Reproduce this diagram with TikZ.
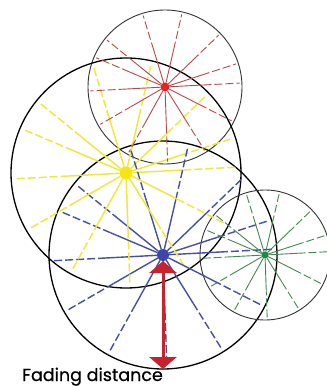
\documentclass[tikz,border=0pt]{standalone}
\usepackage{fontspec}
\usetikzlibrary{arrows.meta,calc}
\newfontfamily\lblfont{Poppins}[FakeBold=0.6]
\definecolor{rayred}{RGB}{190,70,70}
\definecolor{dotred}{RGB}{230,35,35}
\definecolor{rayyellow}{RGB}{240,232,60}
\definecolor{dotyellow}{RGB}{245,230,15}
\definecolor{rayblue}{RGB}{70,80,160}
\definecolor{dotblue}{RGB}{60,70,170}
\definecolor{raygreen}{RGB}{70,135,80}
\definecolor{dotgreen}{RGB}{30,140,60}
\definecolor{fadered}{RGB}{200,35,45}
\begin{document}
\begin{tikzpicture}[x=1pt, y=-1pt,
	zone/.style={draw=black, circle, inner sep=0pt, outer sep=0pt},
	src/.style={circle, inner sep=0pt, outer sep=0pt},
	outer/.style={dash pattern=on 8pt off 3pt}]
	\useasboundingbox[fill=white] (0,0) rectangle (326,387);
	% coverage zones
	\node[zone, line width=0.9pt, draw=black!80, minimum size=154pt] (zr) at (165,87) {};
	\node[zone, line width=1.3pt, minimum size=230pt] (zy) at (126,173) {};
	\node[zone, line width=1.3pt, minimum size=228pt] (zb) at (163,255) {};
	\node[zone, line width=0.9pt, draw=black!80, minimum size=130pt] (zg) at (265,255) {};
	% sources
	\node[src, fill=dotred, minimum size=9pt] (r) at (165,87) {};
	\node[src, fill=dotyellow, minimum size=13pt] (y) at (126,173) {};
	\node[src, fill=dotblue, minimum size=12pt] (b) at (163,255) {};
	\node[src, fill=dotgreen, minimum size=7pt] (g) at (265,255) {};
	% rays
	\foreach \a in {3,18,44,77,107,141,157,183,210,241,272,302,333} {
		\draw[rayred, line width=0.9pt] (r) -- ($(r)!0.5!(zr.\a)$);
		\draw[rayred, line width=0.9pt, outer] ($(r)!0.5!(zr.\a)$) -- ($(r)!0.97!(zr.\a)$);
		\draw[rayyellow, line width=1.5pt] (y) -- ($(y)!0.5!(zy.\a)$);
		\draw[rayyellow, line width=1.5pt, outer] ($(y)!0.5!(zy.\a)$) -- ($(y)!0.97!(zy.\a)$);
		\draw[rayblue, line width=1.4pt] (b) -- ($(b)!0.5!(zb.\a)$);
		\draw[rayblue, line width=1.4pt, outer] ($(b)!0.5!(zb.\a)$) -- ($(b)!0.97!(zb.\a)$);
		\draw[raygreen, line width=0.9pt] (g) -- ($(g)!0.5!(zg.\a)$);
		\draw[raygreen, line width=0.9pt, outer] ($(g)!0.5!(zg.\a)$) -- ($(g)!0.97!(zg.\a)$);
	}
	% fading distance
	\draw[fadered, line width=3pt, {Triangle[width=27pt,length=12pt]}-{Triangle[width=27pt,length=12pt]}] (b.south) -- (zb.south);
	\node[anchor=base west, inner sep=0pt, font=\lblfont\fontsize{17.5}{20}\selectfont] (lbl) at (22,381) {Fading distance};
\end{tikzpicture}
\end{document}
